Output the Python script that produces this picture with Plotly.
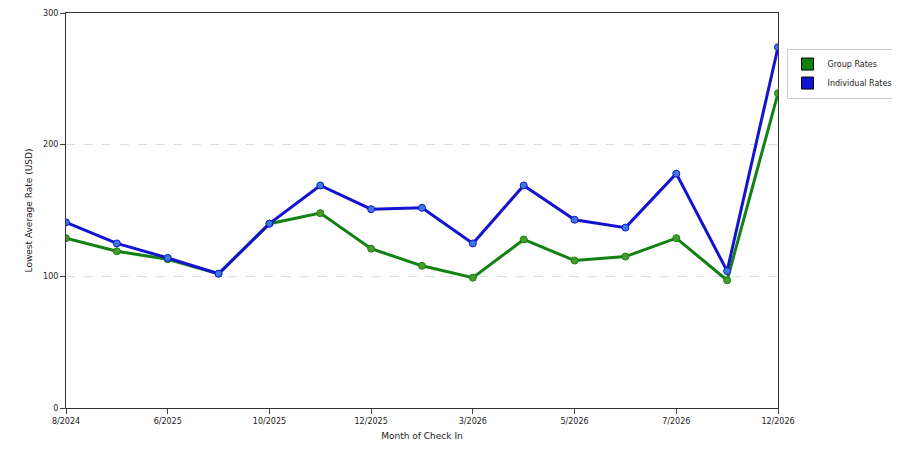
import plotly.graph_objects as go

x_idx = list(range(15))
tick_pos = [0, 2, 4, 6, 8, 10, 12, 14]
tick_labels = ["8/2024", "6/2025", "10/2025", "12/2025", "3/2026", "5/2026", "7/2026", "12/2026"]
group_rates = [129, 119, 113, 102, 140, 148, 121, 108, 99, 128, 112, 115, 129, 97, 239]
individual_rates = [141, 125, 114, 102, 140, 169, 151, 152, 125, 169, 143, 137, 178, 104, 274]

fig = go.Figure()
fig.add_trace(go.Scatter(x=x_idx, y=group_rates, name="Group Rates", mode="lines+markers",
                         showlegend=False,
                         line=dict(color="#138013", width=3),
                         marker=dict(color="#4a9a2a", size=7, line=dict(color="#138013", width=1))))
fig.add_trace(go.Scatter(x=x_idx, y=individual_rates, name="Individual Rates", mode="lines+markers",
                         showlegend=False,
                         line=dict(color="#1414d0", width=3),
                         marker=dict(color="#3a7ae0", size=7, line=dict(color="#1414d0", width=1))))
fig.add_trace(go.Bar(x=[None], y=[None], name="Group Rates", marker=dict(color="#138013", line=dict(color="#000", width=1))))
fig.add_trace(go.Bar(x=[None], y=[None], name="Individual Rates", marker=dict(color="#1414d0", line=dict(color="#000", width=1))))

fig.update_layout(
    width=900, height=450, paper_bgcolor="white", plot_bgcolor="white",
    margin=dict(l=58, r=130, t=5, b=50, autoexpand=False),
    font=dict(family="DejaVu Sans", size=8, color="#222"),
    xaxis=dict(range=[0, 14], tickvals=tick_pos, ticktext=tick_labels, showgrid=False,
               showline=True, linecolor="#333", mirror=True, ticks="outside", ticklen=5,
               automargin=False,
               title=dict(text="Month of Check In", font=dict(size=9), standoff=8), zeroline=False),
    yaxis=dict(range=[0, 300], tickvals=[0, 100, 200, 300], showgrid=True,
               gridcolor="#dddddd", griddash="dash", showline=True, linecolor="#333", mirror=True,
               ticks="outside", ticklen=5, zeroline=False, automargin=False,
               title=dict(text="Lowest Average Rate (USD)", font=dict(size=9), standoff=8)),
    legend=dict(x=1.012, y=0.91, xanchor="left", yanchor="top", bordercolor="#ccc",
                borderwidth=1, font=dict(size=8), itemwidth=30),
)
fig.write_html("out.html")
